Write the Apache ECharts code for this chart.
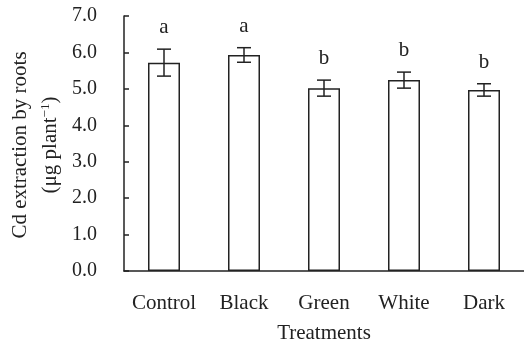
<!DOCTYPE html>
<html><head><meta charset="utf-8">
<script src="https://cdn.jsdelivr.net/npm/echarts@6/dist/echarts.min.js"></script>
<style>html,body{margin:0;padding:0;background:#fff}#c{width:524px;height:349px}</style>
</head><body><div id="c"></div>
<script>
var categories = ['Control', 'Black', 'Green', 'White', 'Dark'];
var means = [5.72, 5.93, 5.02, 5.24, 4.97];
var errors = [0.37, 0.20, 0.22, 0.22, 0.17];
var letters = ['a', 'a', 'b', 'b', 'b'];
var yTicks = [0, 1, 2, 3, 4, 5, 6, 7];

var FONT = '"Liberation Serif", "Times New Roman", serif';
var INK = '#222';
var chart = echarts.init(document.getElementById('c'), null, {renderer: 'canvas'});
var errData = categories.map(function (c, i) { return [i, means[i], errors[i], letters[i]]; });

chart.setOption({
  animation: false,
  grid: {left: 124, top: 16, width: 403, bottom: 74, containLabel: false},
  xAxis: {
    type: 'category', data: categories,
    axisLine: {lineStyle: {color: INK, width: 1.5}},
    axisTick: {inside: true, length: 5, lineStyle: {color: INK, width: 1.5}},
    axisLabel: {interval: 0, color: INK, fontFamily: FONT, fontSize: 21, margin: 22},
    name: 'Treatments', nameLocation: 'middle', nameGap: 52,
    nameTextStyle: {color: INK, fontFamily: FONT, fontSize: 21}
  },
  yAxis: {
    type: 'value', min: yTicks[0], max: yTicks[yTicks.length - 1], interval: 1,
    axisLine: {show: true, lineStyle: {color: INK, width: 1.5}},
    axisTick: {show: true, inside: true, length: 5, lineStyle: {color: INK, width: 1.5}},
    splitLine: {show: false},
    axisLabel: {color: INK, fontFamily: FONT, fontSize: 20, margin: 27,
      formatter: function (v) { return v.toFixed(1); }}
  },
  graphic: [{
    type: 'text', x: 20, y: 145, rotation: Math.PI / 2,
    style: {
      text: 'Cd extraction by roots',
      fill: INK, font: '21px ' + FONT, align: 'center', verticalAlign: 'middle'
    }
  }, {
    type: 'text', x: 50, y: 145, rotation: Math.PI / 2,
    style: {
      text: '(μg plant{sup|−1})',
      fill: INK, font: '21px ' + FONT, align: 'center', verticalAlign: 'middle',
      rich: {sup: {fontSize: 13, fontFamily: FONT, fill: INK, verticalAlign: 'top', lineHeight: 14}}
    }
  }],
  series: [{
    type: 'bar', data: means, barWidth: 32,
    itemStyle: {color: '#fff', borderColor: INK, borderWidth: 1.5}
  }, {
    type: 'custom', data: errData, z: 10,
    renderItem: function (params, api) {
      var x = api.value(0), m = api.value(1), e = api.value(2);
      var top = api.coord([x, m + e]), bot = api.coord([x, m - e]);
      var cx = top[0], hw = 7;
      var ls = {stroke: INK, lineWidth: 1.5};
      return {type: 'group', children: [
        {type: 'line', shape: {x1: cx, y1: top[1], x2: cx, y2: bot[1]}, style: ls},
        {type: 'line', shape: {x1: cx - hw, y1: top[1], x2: cx + hw, y2: top[1]}, style: ls},
        {type: 'line', shape: {x1: cx - hw, y1: bot[1], x2: cx + hw, y2: bot[1]}, style: ls},
        {type: 'text', x: cx, y: top[1] - 11, style: {text: letters[params.dataIndex], fill: INK,
          font: '21px ' + FONT, align: 'center', verticalAlign: 'bottom'}}
      ]};
    }
  }]
});
</script></body></html>
